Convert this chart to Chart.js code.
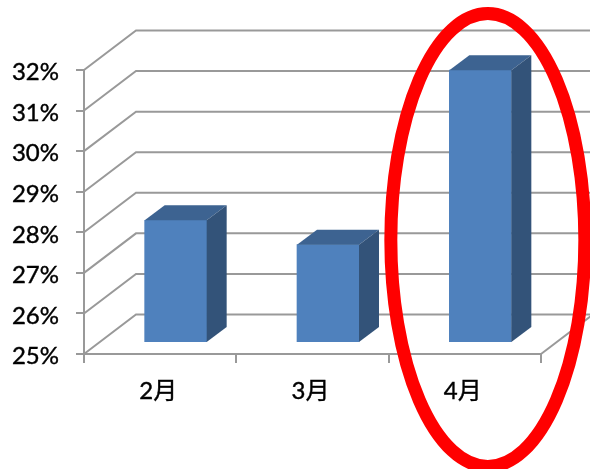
<!DOCTYPE html>
<html>
<head>
<meta charset="utf-8">
<script src="https://cdn.jsdelivr.net/npm/chart.js@4"></script>
<style>html,body{margin:0;padding:0;background:#fff;overflow:hidden}canvas{display:block}</style>
</head>
<body>
<canvas id="c" width="590" height="469"></canvas>
<script>
const categories = ['2月', '3月', '4月'];
const values = [28.0, 27.4, 31.7];
const yMin = 25;
const yMax = 32;
const highlightedCategory = '4月';

const FONT = 'Lato, "Noto Sans CJK JP", sans-serif';
const LINE = '#999999';
const DEPTH_X = 52, DEPTH_Y = -39.5;      // wall offset of the 3D box
const BAR_SHIFT_X = 15.5, BAR_SHIFT_Y = -12; // bars stand part-way into the box
const BAR_DX = 20, BAR_DY = -15;          // bar's own depth

function nudgeLabels(scale, dx, dy) {
  if (scale._nudged) return;
  scale._nudged = true;
  const draw = scale.drawLabels;
  scale.drawLabels = function (area) {
    const ctx = this.ctx;
    ctx.save();
    ctx.translate(dx, dy);
    draw.call(this, area);
    ctx.restore();
  };
}

const box3d = {
  id: 'box3d',
  afterLayout(chart) {
    nudgeLabels(chart.scales.y, -1, 2.5);
    nudgeLabels(chart.scales.x, -2, 1);
  },
  beforeDatasetsDraw(chart) {
    const { ctx, scales: { x, y }, chartArea: a } = chart;
    ctx.save();
    ctx.strokeStyle = LINE;
    ctx.lineWidth = 2;
    ctx.lineJoin = 'miter';
    y.ticks.forEach(t => {
      const py = y.getPixelForValue(t.value);
      ctx.beginPath();
      ctx.moveTo(a.left, py);
      ctx.lineTo(a.left + DEPTH_X, py + DEPTH_Y);
      ctx.lineTo(a.right + DEPTH_X, py + DEPTH_Y);
      ctx.stroke();
    });
    const by = y.getPixelForValue(yMin);
    ctx.beginPath();
    ctx.moveTo(a.right, by);
    ctx.lineTo(a.right + DEPTH_X, by + DEPTH_Y);
    ctx.stroke();
    ctx.restore();
    ctx.save();
    ctx.translate(BAR_SHIFT_X, BAR_SHIFT_Y);
  },
  afterDatasetsDraw(chart) {
    const { ctx, scales: { y } } = chart;
    ctx.restore();
    ctx.save();
    const base = y.getPixelForValue(yMin);
    chart.getDatasetMeta(0).data.forEach(el => {
      const l = el.x - el.width / 2 + BAR_SHIFT_X;
      const r = el.x + el.width / 2 + BAR_SHIFT_X;
      const t = el.y + BAR_SHIFT_Y;
      const b = base + BAR_SHIFT_Y;
      ctx.fillStyle = '#3D6391';
      ctx.beginPath();
      ctx.moveTo(l, t); ctx.lineTo(l + BAR_DX, t + BAR_DY);
      ctx.lineTo(r + BAR_DX, t + BAR_DY); ctx.lineTo(r, t);
      ctx.closePath(); ctx.fill();
      ctx.fillStyle = '#335379';
      ctx.beginPath();
      ctx.moveTo(r, t); ctx.lineTo(r + BAR_DX, t + BAR_DY);
      ctx.lineTo(r + BAR_DX, b + BAR_DY); ctx.lineTo(r, b);
      ctx.closePath(); ctx.fill();
    });
    ctx.restore();
  },
  afterDraw(chart) {
    const { ctx, scales: { x } } = chart;
    const cx = x.getPixelForValue(categories.indexOf(highlightedCategory)) + 23;
    ctx.save();
    ctx.strokeStyle = '#FF0000';
    ctx.lineWidth = 13;
    ctx.beginPath();
    ctx.ellipse(cx, 240, 97, 226.5, 0, 0, Math.PI * 2);
    ctx.stroke();
    ctx.restore();
  }
};

new Chart(document.getElementById('c'), {
  type: 'bar',
  data: {
    labels: categories,
    datasets: [{ data: values, backgroundColor: '#4F81BD', borderWidth: 0, barThickness: 62 }]
  },
  plugins: [box3d],
  options: {
    responsive: false,
    animation: false,
    devicePixelRatio: 1,
    layout: { padding: { top: 70, right: 49, left: 0, bottom: 0 } },
    plugins: { legend: { display: false }, tooltip: { enabled: false } },
    scales: {
      x: {
        afterFit(s) { s.height = 115; },
        border: { display: true, color: LINE, width: 2 },
        grid: { display: true, drawOnChartArea: false, drawTicks: true, tickLength: 9, color: LINE, lineWidth: 2, offset: true },
        ticks: { color: '#000', font: { family: FONT, size: 24 }, textStrokeColor: '#000', textStrokeWidth: 0.4, padding: 13, maxRotation: 0 }
      },
      y: {
        min: yMin, max: yMax,
        afterFit(s) { s.width = 84; },
        border: { display: true, color: LINE, width: 2 },
        grid: { display: true, drawOnChartArea: false, drawTicks: true, tickLength: 8, color: LINE, lineWidth: 2 },
        ticks: { stepSize: 1, color: '#000', font: { family: FONT, size: 24 }, textStrokeColor: '#000', textStrokeWidth: 0.4, padding: 16, callback: v => v + '%' }
      }
    }
  }
});
</script>
</body>
</html>
